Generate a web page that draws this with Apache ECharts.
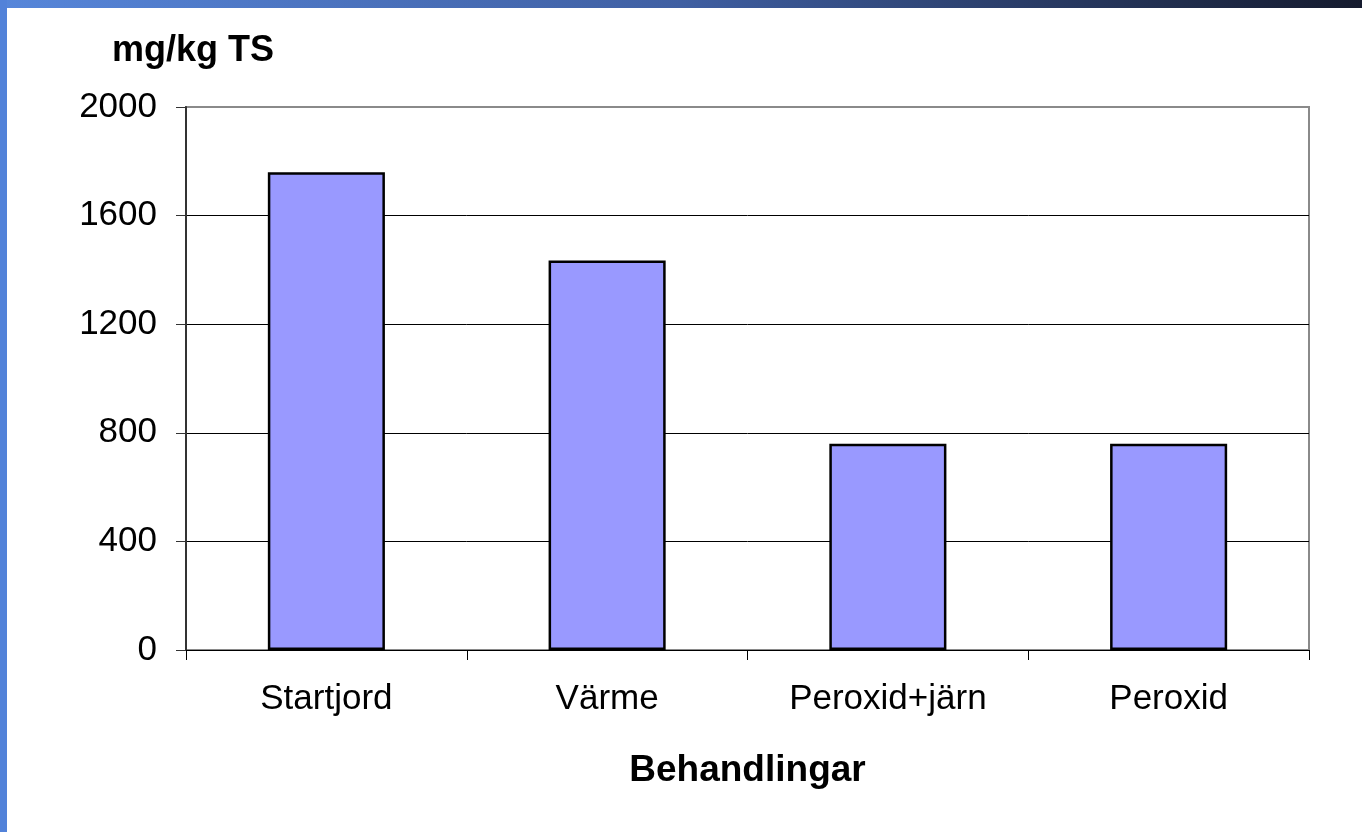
<!DOCTYPE html>
<html>
<head>
<meta charset="utf-8">
<script src="https://cdn.jsdelivr.net/npm/echarts@6/dist/echarts.min.js"></script>
<style>
  html, body { margin: 0; padding: 0; background: #fff; }
  #chart { width: 1362px; height: 832px; }
  /* ram runt bilden */
  .top-band { position: absolute; left: 0; top: 0; width: 1362px; height: 8px;
    background: linear-gradient(to right, #5686da, #3f5fa2 50%, #151b2e); }
  .left-band { position: absolute; left: 0; top: 0; width: 7px; height: 832px; background: #5282d9; }
</style>
</head>
<body>
<div id="chart"></div>
<div class="top-band"></div>
<div class="left-band"></div>
<script>
// data
const categories = ["Startjord", "Värme", "Peroxid+järn", "Peroxid"];
const values = [1760, 1435, 760, 760];
const yTicks = { min: 0, max: 2000, interval: 400 };

const myChart = echarts.init(document.getElementById("chart"));
const font = "'Liberation Sans', Arial, sans-serif";

const option = {
  animation: false,
  grid: {
    left: 186, right: 53, top: 107, bottom: 182,
    show: true, borderColor: "#8a8a8a", borderWidth: 2,
  },
  xAxis: {
    type: "category",
    data: categories,
    name: "Behandlingar",
    nameLocation: "middle",
    nameGap: 102,
    nameTextStyle: { fontFamily: font, fontSize: 37, fontWeight: "bold", color: "#000" },
    axisLine: { lineStyle: { color: "#000", width: 1 } },
    axisTick: { show: true, length: 10, lineStyle: { color: "#000" } },
    axisLabel: { fontFamily: font, fontSize: 35, color: "#000", margin: 32 },
  },
  yAxis: {
    type: "value",
    min: yTicks.min,
    max: yTicks.max,
    interval: yTicks.interval,
    name: "mg/kg TS",
    nameLocation: "end",
    nameGap: 38,
    nameTextStyle: { fontFamily: font, fontSize: 36, fontWeight: "bold", color: "#000", align: "center", padding: [0, 0, 0, 14] },
    axisLine: { show: true, lineStyle: { color: "#333", width: 2 } },
    axisTick: { show: true, length: 10, lineStyle: { color: "#333" } },
    axisLabel: { fontFamily: font, fontSize: 35, color: "#000", margin: 29, formatter: (v) => String(v) },
    splitLine: { show: true, lineStyle: { color: ["#000", "#000", "#000", "#000", "#000", "#8a8a8a"], width: 1 } },
  },
  series: [
    {
      type: "bar",
      data: values,
      barWidth: "41.7%",
      itemStyle: { color: "#9999ff", borderColor: "#000", borderWidth: 2.5 },
    },
  ],
};

myChart.setOption(option);
</script>
</body>
</html>
